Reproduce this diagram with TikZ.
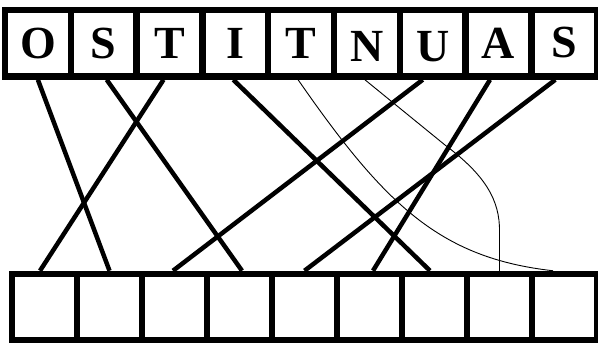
\documentclass[tikz,border=0pt]{standalone}
\usepackage{fontspec}
\setmainfont{Liberation Serif}
\begin{document}
\begin{tikzpicture}[x=1pt, y=-1pt,
    casilla/.style={draw, line width=6.5pt, minimum width=65.8pt,
        minimum height=66.5pt, inner sep=0pt, text height=30pt, text depth=0pt,
        font=\bfseries\fontsize{46}{46}\selectfont},
    enlace/.style={line width=4.5pt},
    fino/.style={line width=0.9pt}]
    \useasboundingbox (0,0) rectangle (598,343);

    % Fila superior con las letras
    \foreach \l/\dy [count=\i] in {O/0,S/0,T/0,I/0,T/0,N/3,U/3,A/0,S/-1}
        \node[casilla] (t\i) at ({5+65.8*(\i-0.5)},43.25)
            {\raisebox{-\dy pt}{\l}};

    % Fila inferior vacia
    \foreach \i in {1,...,9}
        \node[casilla, minimum width=65pt] (b\i) at ({12+65*(\i-0.5)},307.25) {};

    % Enlaces gruesos
    \draw[enlace] (t1.south) -- (b2.north);
    \draw[enlace] ([xshift=3pt]t2.south) -- ([xshift=2.5pt]b4.north);
    \draw[enlace] ([xshift=-6pt]t3.south) -- ([xshift=-4.5pt]b1.north);
    \draw[enlace] ([xshift=-2pt]t4.south) -- ([xshift=-4.5pt]b7.north);
    \draw[enlace] ([xshift=-10pt]t7.south) -- ([xshift=-1.5pt]b3.north);
    \draw[enlace] ([xshift=-8.5pt]t8.south) -- ([xshift=3.5pt]b6.north);
    \draw[enlace] ([xshift=-9pt]t9.south) -- (b5.north);

    % Enlaces finos curvos
    \draw[fino] ([xshift=-3pt]t5.south)
        .. controls (385,205) and (440,258) .. ([xshift=-11.5pt]b9.north);
    \coordinate (codo) at (445,145);
    \draw[fino] ([xshift=-2pt]t6.south) -- (codo)
        .. controls (485,175) and (500,200) .. ([yshift=39pt]b8.north)
        -- (b8.north);
\end{tikzpicture}
\end{document}
